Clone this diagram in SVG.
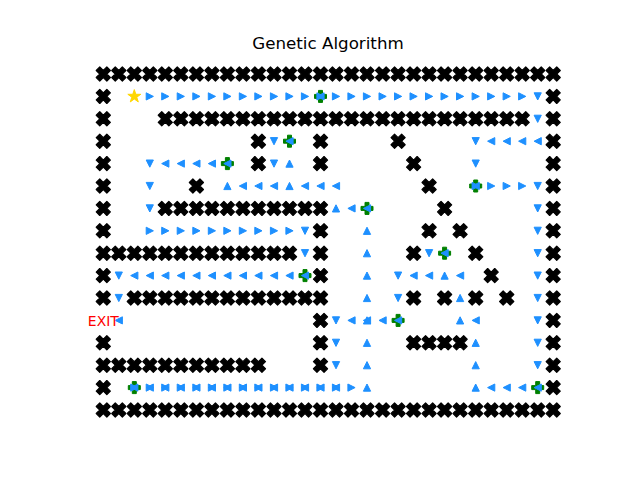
<svg xmlns="http://www.w3.org/2000/svg" xmlns:xlink="http://www.w3.org/1999/xlink" width="640" height="480" viewBox="0 0 640 480">
<style>
.wall{fill:#000;stroke:#000;stroke-width:1.2;stroke-linejoin:round}
.arr{fill:#1E90FF;stroke:#1E90FF;stroke-width:1;stroke-linejoin:round}
.wp{fill:#008000;stroke:#008000;stroke-width:1;stroke-linejoin:round}
.star{fill:#FFD700;stroke:#FFD700;stroke-width:1;stroke-linejoin:round}
.title{font-family:"DejaVu Sans",sans-serif;font-size:16.7px;fill:#000}
.exit{font-family:"DejaVu Sans",sans-serif;font-size:13.9px;fill:#FF0000}
</style>
<defs>
<path id="w" d="M3.54,-7.07 L7.07,-3.54 L3.54,0 L7.07,3.54 L3.54,7.07 L0,3.54 L-3.54,7.07 L-7.07,3.54 L-3.54,0 L-7.07,-3.54 L-3.54,-7.07 L0,-3.54 Z"/>
<path id="R" d="M3.6,0 L-3.6,-3.6 L-3.6,3.6 Z"/>
<path id="L" d="M-3.6,0 L3.6,-3.6 L3.6,3.6 Z"/>
<path id="U" d="M0,-3.6 L-3.6,3.6 L3.6,3.6 Z"/>
<path id="D" d="M0,3.6 L-3.6,-3.6 L3.6,-3.6 Z"/>
<path id="P" d="M-2,-6 H2 V-2 H6 V2 H2 V6 H-2 V2 H-6 V-2 H-2 Z"/>
<path id="S" d="M0,-6.8 L1.53,-2.11 L6.47,-2.1 L2.48,0.81 L4,5.5 L0,2.6 L-4,5.5 L-2.48,0.81 L-6.47,-2.1 L-1.53,-2.11 Z"/>
</defs>
<rect width="640" height="480" fill="#fff"/>
<text class="title" x="328" y="48.5" text-anchor="middle">Genetic Algorithm</text>

<g id="walls" class="wall">
<g transform="translate(0,74)">
<use href="#w" x="103.3"/><use href="#w" x="118.8"/><use href="#w" x="134.3"/><use href="#w" x="149.8"/><use href="#w" x="165.3"/><use href="#w" x="180.8"/><use href="#w" x="196.4"/><use href="#w" x="211.9"/><use href="#w" x="227.4"/><use href="#w" x="242.9"/><use href="#w" x="258.4"/><use href="#w" x="274.0"/><use href="#w" x="289.5"/><use href="#w" x="305.0"/><use href="#w" x="320.5"/><use href="#w" x="336.0"/><use href="#w" x="351.5"/><use href="#w" x="367.0"/><use href="#w" x="382.6"/><use href="#w" x="398.1"/><use href="#w" x="413.6"/><use href="#w" x="429.1"/><use href="#w" x="444.6"/><use href="#w" x="460.1"/><use href="#w" x="475.7"/><use href="#w" x="491.2"/><use href="#w" x="506.7"/><use href="#w" x="522.2"/><use href="#w" x="537.7"/><use href="#w" x="553.2"/>
</g>
<g transform="translate(0,96.4)"><use href="#w" x="103.3"/><use href="#w" x="553.2"/></g>
<g transform="translate(0,118.8)">
<use href="#w" x="103.3"/><use href="#w" x="165.3"/><use href="#w" x="180.8"/><use href="#w" x="196.4"/><use href="#w" x="211.9"/><use href="#w" x="227.4"/><use href="#w" x="242.9"/><use href="#w" x="258.4"/><use href="#w" x="274.0"/><use href="#w" x="289.5"/><use href="#w" x="305.0"/><use href="#w" x="320.5"/><use href="#w" x="336.0"/><use href="#w" x="351.5"/><use href="#w" x="367.0"/><use href="#w" x="382.6"/><use href="#w" x="398.1"/><use href="#w" x="413.6"/><use href="#w" x="429.1"/><use href="#w" x="444.6"/><use href="#w" x="460.1"/><use href="#w" x="475.7"/><use href="#w" x="491.2"/><use href="#w" x="506.7"/><use href="#w" x="522.2"/><use href="#w" x="553.2"/>
</g>
<g transform="translate(0,141.2)"><use href="#w" x="103.3"/><use href="#w" x="258.4"/><use href="#w" x="320.5"/><use href="#w" x="398.1"/><use href="#w" x="553.2"/></g>
<g transform="translate(0,163.6)"><use href="#w" x="103.3"/><use href="#w" x="258.4"/><use href="#w" x="320.5"/><use href="#w" x="413.6"/><use href="#w" x="553.2"/></g>
<g transform="translate(0,186)"><use href="#w" x="103.3"/><use href="#w" x="196.4"/><use href="#w" x="429.1"/><use href="#w" x="553.2"/></g>
<g transform="translate(0,208.4)">
<use href="#w" x="103.3"/><use href="#w" x="165.3"/><use href="#w" x="180.8"/><use href="#w" x="196.4"/><use href="#w" x="211.9"/><use href="#w" x="227.4"/><use href="#w" x="242.9"/><use href="#w" x="258.4"/><use href="#w" x="274.0"/><use href="#w" x="289.5"/><use href="#w" x="305.0"/><use href="#w" x="320.5"/><use href="#w" x="444.6"/><use href="#w" x="553.2"/>
</g>
<g transform="translate(0,230.8)"><use href="#w" x="103.3"/><use href="#w" x="320.5"/><use href="#w" x="429.1"/><use href="#w" x="460.1"/><use href="#w" x="553.2"/></g>
<g transform="translate(0,253.2)">
<use href="#w" x="103.3"/><use href="#w" x="118.8"/><use href="#w" x="134.3"/><use href="#w" x="149.8"/><use href="#w" x="165.3"/><use href="#w" x="180.8"/><use href="#w" x="196.4"/><use href="#w" x="211.9"/><use href="#w" x="227.4"/><use href="#w" x="242.9"/><use href="#w" x="258.4"/><use href="#w" x="274.0"/><use href="#w" x="289.5"/><use href="#w" x="320.5"/><use href="#w" x="413.6"/><use href="#w" x="475.7"/><use href="#w" x="553.2"/>
</g>
<g transform="translate(0,275.6)"><use href="#w" x="103.3"/><use href="#w" x="320.5"/><use href="#w" x="491.2"/><use href="#w" x="553.2"/></g>
<g transform="translate(0,298)">
<use href="#w" x="103.3"/><use href="#w" x="134.3"/><use href="#w" x="149.8"/><use href="#w" x="165.3"/><use href="#w" x="180.8"/><use href="#w" x="196.4"/><use href="#w" x="211.9"/><use href="#w" x="227.4"/><use href="#w" x="242.9"/><use href="#w" x="258.4"/><use href="#w" x="274.0"/><use href="#w" x="289.5"/><use href="#w" x="305.0"/><use href="#w" x="320.5"/><use href="#w" x="413.6"/><use href="#w" x="444.6"/><use href="#w" x="475.7"/><use href="#w" x="506.7"/><use href="#w" x="553.2"/>
</g>
<g transform="translate(0,320.4)"><use href="#w" x="320.5"/><use href="#w" x="553.2"/></g>
<g transform="translate(0,342.8)"><use href="#w" x="103.3"/><use href="#w" x="320.5"/><use href="#w" x="413.6"/><use href="#w" x="429.1"/><use href="#w" x="444.6"/><use href="#w" x="460.1"/><use href="#w" x="553.2"/></g>
<g transform="translate(0,365.2)">
<use href="#w" x="103.3"/><use href="#w" x="118.8"/><use href="#w" x="134.3"/><use href="#w" x="149.8"/><use href="#w" x="165.3"/><use href="#w" x="180.8"/><use href="#w" x="196.4"/><use href="#w" x="211.9"/><use href="#w" x="227.4"/><use href="#w" x="242.9"/><use href="#w" x="258.4"/><use href="#w" x="320.5"/><use href="#w" x="553.2"/>
</g>
<g transform="translate(0,387.6)"><use href="#w" x="103.3"/><use href="#w" x="553.2"/></g>
<g transform="translate(0,410)">
<use href="#w" x="103.3"/><use href="#w" x="118.8"/><use href="#w" x="134.3"/><use href="#w" x="149.8"/><use href="#w" x="165.3"/><use href="#w" x="180.8"/><use href="#w" x="196.4"/><use href="#w" x="211.9"/><use href="#w" x="227.4"/><use href="#w" x="242.9"/><use href="#w" x="258.4"/><use href="#w" x="274.0"/><use href="#w" x="289.5"/><use href="#w" x="305.0"/><use href="#w" x="320.5"/><use href="#w" x="336.0"/><use href="#w" x="351.5"/><use href="#w" x="367.0"/><use href="#w" x="382.6"/><use href="#w" x="398.1"/><use href="#w" x="413.6"/><use href="#w" x="429.1"/><use href="#w" x="444.6"/><use href="#w" x="460.1"/><use href="#w" x="475.7"/><use href="#w" x="491.2"/><use href="#w" x="506.7"/><use href="#w" x="522.2"/><use href="#w" x="537.7"/><use href="#w" x="553.2"/>
</g>
</g>

<g id="waypoints" class="wp">
<use href="#P" x="320.5" y="96.4"/><use href="#P" x="289.5" y="141.2"/><use href="#P" x="227.4" y="163.6"/><use href="#P" x="475.7" y="186"/><use href="#P" x="367.0" y="208.4"/><use href="#P" x="444.6" y="253.2"/><use href="#P" x="305.0" y="275.6"/><use href="#P" x="398.1" y="320.4"/><use href="#P" x="134.3" y="387.6"/><use href="#P" x="537.7" y="387.6"/>
</g>

<g id="connectors" class="arr">
<g transform="translate(0,96.4)">
<use href="#R" x="149.8"/><use href="#R" x="165.3"/><use href="#R" x="180.8"/><use href="#R" x="196.4"/><use href="#R" x="211.9"/><use href="#R" x="227.4"/><use href="#R" x="242.9"/><use href="#R" x="258.4"/><use href="#R" x="274.0"/><use href="#R" x="289.5"/><use href="#R" x="305.0"/><use href="#R" x="320.5"/><use href="#R" x="336.0"/><use href="#R" x="351.5"/><use href="#R" x="367.0"/><use href="#R" x="382.6"/><use href="#R" x="398.1"/><use href="#R" x="413.6"/><use href="#R" x="429.1"/><use href="#R" x="444.6"/><use href="#R" x="460.1"/><use href="#R" x="475.7"/><use href="#R" x="491.2"/><use href="#R" x="506.7"/><use href="#R" x="522.2"/>
<use href="#L" x="320.5"/><use href="#D" x="537.7"/>
</g>
<g transform="translate(0,118.8)"><use href="#D" x="537.7"/></g>
<g transform="translate(0,141.2)">
<use href="#D" x="274.0"/><use href="#L" x="289.5"/><use href="#D" x="475.7"/><use href="#L" x="491.2"/><use href="#L" x="506.7"/><use href="#L" x="522.2"/><use href="#L" x="537.7"/>
</g>
<g transform="translate(0,163.6)">
<use href="#D" x="149.8"/><use href="#L" x="165.3"/><use href="#L" x="180.8"/><use href="#L" x="196.4"/><use href="#L" x="211.9"/><use href="#L" x="227.4"/><use href="#D" x="274.0"/><use href="#U" x="289.5"/><use href="#D" x="475.7"/>
</g>
<g transform="translate(0,186)">
<use href="#D" x="149.8"/><use href="#U" x="227.4"/><use href="#L" x="242.9"/><use href="#L" x="258.4"/><use href="#L" x="274.0"/><use href="#U" x="289.5"/><use href="#L" x="305.0"/><use href="#L" x="320.5"/><use href="#L" x="336.0"/>
<use href="#R" x="475.7"/><use href="#L" x="475.7"/><use href="#R" x="491.2"/><use href="#R" x="506.7"/><use href="#R" x="522.2"/><use href="#D" x="537.7"/>
</g>
<g transform="translate(0,208.4)">
<use href="#D" x="149.8"/><use href="#U" x="336.0"/><use href="#L" x="351.5"/><use href="#L" x="367.0"/><use href="#D" x="537.7"/>
</g>
<g transform="translate(0,230.8)">
<use href="#R" x="149.8"/><use href="#R" x="165.3"/><use href="#R" x="180.8"/><use href="#R" x="196.4"/><use href="#R" x="211.9"/><use href="#R" x="227.4"/><use href="#R" x="242.9"/><use href="#R" x="258.4"/><use href="#R" x="274.0"/><use href="#R" x="289.5"/><use href="#D" x="305.0"/><use href="#U" x="367.0"/><use href="#D" x="537.7"/>
</g>
<g transform="translate(0,253.2)">
<use href="#D" x="305.0"/><use href="#U" x="367.0"/><use href="#D" x="429.1"/><use href="#L" x="444.6"/><use href="#D" x="537.7"/>
</g>
<g transform="translate(0,275.6)">
<use href="#D" x="118.8"/><use href="#L" x="134.3"/><use href="#L" x="149.8"/><use href="#L" x="165.3"/><use href="#L" x="180.8"/><use href="#L" x="196.4"/><use href="#L" x="211.9"/><use href="#L" x="227.4"/><use href="#L" x="242.9"/><use href="#L" x="258.4"/><use href="#L" x="274.0"/><use href="#L" x="289.5"/><use href="#L" x="305.0"/>
<use href="#U" x="367.0"/><use href="#D" x="398.1"/><use href="#L" x="413.6"/><use href="#L" x="429.1"/><use href="#U" x="444.6"/><use href="#L" x="460.1"/><use href="#D" x="537.7"/>
</g>
<g transform="translate(0,298)">
<use href="#D" x="118.8"/><use href="#U" x="367.0"/><use href="#D" x="398.1"/><use href="#U" x="460.1"/><use href="#D" x="537.7"/>
</g>
<g transform="translate(0,320.4)">
<use href="#L" x="118.8"/><use href="#D" x="336.0"/><use href="#L" x="351.5"/><use href="#U" x="367.0"/><use href="#L" x="367.0"/><use href="#L" x="382.6"/><use href="#L" x="398.1"/><use href="#U" x="460.1"/><use href="#L" x="475.7"/><use href="#D" x="537.7"/>
</g>
<g transform="translate(0,342.8)">
<use href="#D" x="336.0"/><use href="#U" x="367.0"/><use href="#U" x="475.7"/><use href="#D" x="537.7"/>
</g>
<g transform="translate(0,365.2)">
<use href="#D" x="336.0"/><use href="#U" x="367.0"/><use href="#U" x="475.7"/><use href="#D" x="537.7"/>
</g>
<g transform="translate(0,387.6)">
<use href="#R" x="134.3"/><use href="#L" x="134.3"/>
<use href="#R" x="149.8"/><use href="#L" x="149.8"/><use href="#R" x="165.3"/><use href="#L" x="165.3"/><use href="#R" x="180.8"/><use href="#L" x="180.8"/><use href="#R" x="196.4"/><use href="#L" x="196.4"/><use href="#R" x="211.9"/><use href="#L" x="211.9"/><use href="#R" x="227.4"/><use href="#L" x="227.4"/><use href="#R" x="242.9"/><use href="#L" x="242.9"/><use href="#R" x="258.4"/><use href="#L" x="258.4"/><use href="#R" x="274.0"/><use href="#L" x="274.0"/><use href="#R" x="289.5"/><use href="#L" x="289.5"/><use href="#R" x="305.0"/><use href="#L" x="305.0"/><use href="#R" x="320.5"/><use href="#L" x="320.5"/><use href="#R" x="336.0"/><use href="#L" x="336.0"/>
<use href="#R" x="351.5"/><use href="#U" x="367.0"/><use href="#U" x="475.7"/><use href="#L" x="491.2"/><use href="#L" x="506.7"/><use href="#L" x="522.2"/><use href="#L" x="537.7"/>
</g>
</g>

<g id="start" class="star"><use href="#S" x="134.3" y="96.4"/></g>
<g id="exit"><text class="exit" x="103.3" y="325.5" text-anchor="middle">EXIT</text></g>
</svg>
